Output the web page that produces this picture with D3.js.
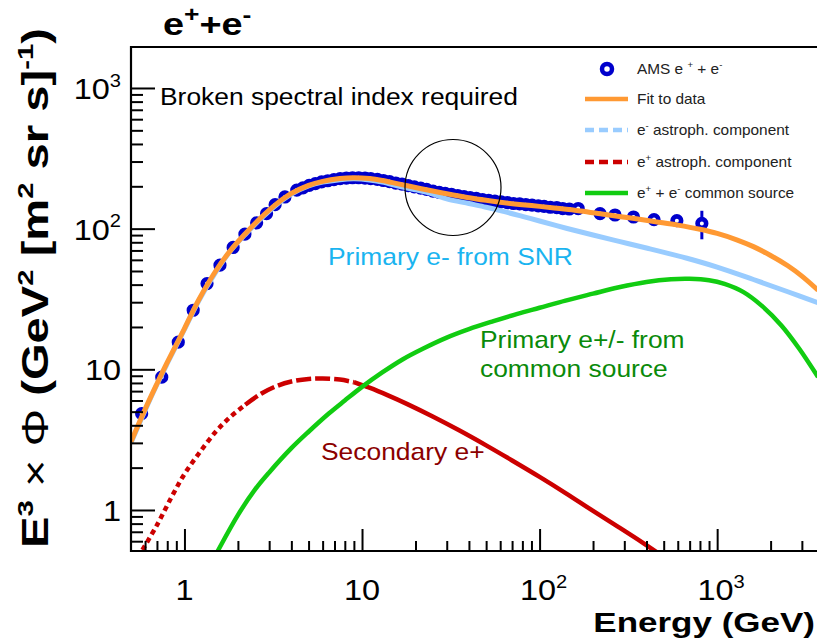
<!DOCTYPE html>
<html><head><meta charset="utf-8">
<script src="https://cdn.jsdelivr.net/npm/d3@7"></script>
<style>body{margin:0;background:#fff} svg{display:block} text{font-family:"Liberation Sans",Arial,Helvetica,sans-serif}</style>
</head><body><svg id="c" width="817" height="644"></svg>
<script>
// ---------------- data ----------------
const amsE = [0.574,0.745,0.923,1.12,1.34,1.585,1.88,2.19,2.55,2.90,3.24,3.68,
  4.29,4.65,5.04,5.46,5.92,6.41,6.95,7.53,8.16,8.84,9.58,10.4,11.2,12.2,13.2,14.3,15.5,16.8,18.2,19.7,
  21.4,23.1,25.1,27.2,29.4,31.9,34.6,37.5,40.6,44.0,47.7,51.7,56.0,60.7,65.8,71.3,77.2,83.7,90.7,98.3,
  106,115,125,135,147,165,219,266,338,441,593,820];
const amsV = [4.84,8.8,15.6,26.3,40.7,55,73.5,91.4,110,128,148,168,
  188,195,203,209,215,219,223,227,229,230,230,229,227,224,220,216,211,207,202,198,
  194,190,185,181,178,175,172,169,166,164,161,159,157,155,153,151,150,148,147,145,
  144,142,141,139,138,139,128,125,121,116,114,109];
const amsErr = [0,0,0,0,0,0,0,0,0,0,0,0,
  0,0,0,0,0,0,0,0,0,0,0,0,0,0,0,0,0,0,0,0,
  0,0,0,0,0,0,0,0,0,0,0,0,0,0,0,0,0,0,0,0,
  0,0,0,0,0,2,3,3,4,6,9,25];

const fitE = [0.5,0.6,0.7,0.8,1.0,1.2,1.5,1.8,2.2,2.7,3.3,4.0,5.0,6.0,7.5,9.0,11,13,16,20,25,30,40,50,60,80,100,130,170,220,280,350,450,600,800,1000,1300,1600,2000,2500,3000,3700];
const fitV = [3.05,5.2,7.9,11.2,19.5,31,50,69,92,120,150,178,203,217,227,230,227,220,208,196,185,177,166,159,154,148,144,139,133.5,127.5,122,117.5,112,106,99,92.5,83,74.5,64.5,54.5,46,36.5];

const eMinusE = [0.5,0.6,0.7,0.8,1.0,1.2,1.5,1.8,2.2,2.7,3.3,4.0,5.0,6.0,7.5,9.0,11,13,16,20,25,30,40,50,60,80,100,143,200,284,405,676,1000,1600,2500,3700];
const eMinusV = [3.0,5.1,7.8,11.0,19.2,30.5,49,68.5,91,118,148,176,201,214,223,226,222,214,201,189,176,163,150.8,142,134.4,122.2,113.3,100.3,90.1,80.8,72.6,61.6,53.3,43.5,35.6,29.7];

const ePlusE = [0.58,0.7,0.85,1.0,1.2,1.5,1.8,2.2,2.7,3.3,4.0,5.0,6.0,7.5,9.0,11,14,18,25,35,50,70,100,140,200,280,380,480];
const ePlusV = [0.52,0.78,1.25,1.8,2.5,3.6,4.55,5.6,6.7,7.6,8.2,8.55,8.6,8.45,8.1,7.4,6.53,5.66,4.62,3.70,2.88,2.25,1.72,1.32,0.985,0.752,0.586,0.48];

const commonE = [1.5,2,2.5,3,4,5,6.5,8,10,13,17,22,30,40,55,75,100,140,200,280,400,550,700,900,1100,1400,1800,2300,2900,3700];
const commonV = [0.48,0.92,1.4,1.85,2.75,3.6,4.85,6.0,7.5,9.5,11.8,14.0,16.8,19.3,22,24.8,27.4,30.8,34.5,38.3,41.8,43.7,44.0,43.0,40.5,35.5,28,20.5,14,8.8];

const xMajor = [1,10,100,1000];
const xMinor = [0.6,0.7,0.8,0.9,2,3,4,5,6,7,8,9,20,30,40,50,60,70,80,90,200,300,400,500,600,700,800,900,2000,3000];
const yMajor = [1,10,100,1000];
const yMinor = [0.6,0.7,0.8,0.9,2,3,4,5,6,7,8,9,20,30,40,50,60,70,80,90,200,300,400,500,600,700,800,900];
const tickBase = ["1","10","10","10"];
const tickExp  = ["","","2","3"];

const legendItems = [
  {kind:"marker", parts:["AMS e ",{sup:"+"}," + e",{sup:"-"}]},
  {kind:"line", color:"#ff9933", dash:null, parts:["Fit to data"]},
  {kind:"line", color:"#99ccff", dash:"9,5", parts:["e",{sup:"-"}," astroph. component"]},
  {kind:"line", color:"#cc0000", dash:"9,5", parts:["e",{sup:"+"}," astroph. component"]},
  {kind:"line", color:"#11cc11", dash:null, parts:["e",{sup:"+"}," + e",{sup:"-"}," common source"]}
];

// ---------------- setup ----------------
const svg = d3.select("#c");
const L = 131, R = 817, T = 47, B = 551;
const x = d3.scaleLog().domain([0.5, 3650]).range([L, R]);
const y = d3.scaleLog().domain([0.511, 1956]).range([B, T]);

svg.append("defs").append("clipPath").attr("id","clip")
  .append("rect").attr("x",L).attr("y",T).attr("width",R-L).attr("height",B-T);

function label(parent, px, py, parts, o) {
  const sx = o.sx || 1;
  const g = parent.append("g").attr("transform", `translate(${px},${py}) ${o.rot?`rotate(${o.rot})`:""} scale(${sx},1)`);
  const t = g.append("text").attr("font-size", o.size).attr("font-weight", o.weight||"normal")
    .attr("fill", o.fill||"#000").attr("text-anchor", o.anchor||"start");
  let cur = 0; // current raise above baseline
  parts.forEach(p => {
    if (typeof p === "string" || p.n !== undefined) {
      const ts = t.append("tspan").attr("dy", cur).attr("font-size", o.size).text(typeof p === "string" ? p : p.n);
      if (p.n !== undefined) ts.attr("font-weight","normal");
      cur = 0;
    } else {
      const target = o.size*0.42;
      t.append("tspan").attr("dy", -(target-cur)).attr("font-size", o.size*(o.supScale||0.62)).text(p.sup);
      cur = target;
    }
  });
  return g;
}

// ---------------- curves ----------------
const plot = svg.append("g").attr("clip-path","url(#clip)");
const line = d3.line().x(d=>x(d[0])).y(d=>y(d[1])).curve(d3.curveCatmullRom.alpha(0.5));
const zip = (a,b) => a.map((v,i)=>[v,b[i]]);

// data points (behind the lines)
const amsG = plot.append("g");
zip(amsE, amsV).forEach((d,i) => {
  if (amsErr[i] > 0) {
    amsG.append("line").attr("x1",x(d[0])).attr("x2",x(d[0]))
      .attr("y1",y(d[1]+amsErr[i])).attr("y2",y(d[1]-amsErr[i]))
      .attr("stroke","#0000cc").attr("stroke-width",3);
  }
});
amsG.selectAll("circle").data(zip(amsE, amsV)).join("circle")
  .attr("cx",d=>x(d[0])).attr("cy",d=>y(d[1])).attr("r",4.3)
  .attr("fill","#fff").attr("stroke","#0000cc").attr("stroke-width",4.6);

// e- astroph component
plot.append("path").datum(zip(eMinusE,eMinusV)).attr("d",line)
  .attr("fill","none").attr("stroke","#99ccff").attr("stroke-width",5);

// e+ secondary: dotted / dashed / solid parts
const ep = zip(ePlusE, ePlusV);
const redParts = [
  {data: ep.filter(d=>d[0]<=2.2), dash:"5,4"},
  {data: ep.filter(d=>d[0]>=2.2 && d[0]<=9), dash:"15,4"},
  {data: ep.filter(d=>d[0]>=9), dash:null}
];
redParts.forEach(p => {
  plot.append("path").datum(p.data).attr("d",line).attr("fill","none")
    .attr("stroke","#cc0000").attr("stroke-width",4.5).attr("stroke-dasharray",p.dash);
});

// common source
plot.append("path").datum(zip(commonE,commonV)).attr("d",line)
  .attr("fill","none").attr("stroke","#11cc11").attr("stroke-width",4.5);

// fit
plot.append("path").datum(zip(fitE,fitV)).attr("d",line)
  .attr("fill","none").attr("stroke","#ff9933").attr("stroke-width",5);

// ---------------- axes ----------------
const ax = svg.append("g");
function styleAxis(g){ g.select(".domain").remove(); g.selectAll("line").attr("stroke","#000").attr("stroke-width",2); g.selectAll("text").remove(); }
ax.append("g").attr("transform",`translate(0,${B})`)
  .call(d3.axisBottom(x).tickValues(xMajor).tickSize(-22).tickFormat("")).call(styleAxis);
ax.append("g").attr("transform",`translate(0,${B})`)
  .call(d3.axisBottom(x).tickValues(xMinor).tickSize(-10).tickFormat("")).call(styleAxis);
ax.append("g").attr("transform",`translate(${L},0)`)
  .call(d3.axisLeft(y).tickValues(yMajor).tickSize(-24).tickFormat("")).call(styleAxis);
ax.append("g").attr("transform",`translate(${L},0)`)
  .call(d3.axisLeft(y).tickValues(yMinor).tickSize(-12).tickFormat("")).call(styleAxis);
// frame lines
svg.append("line").attr("x1",L).attr("x2",L).attr("y1",T-1).attr("y2",B+1).attr("stroke","#000").attr("stroke-width",2.2);
svg.append("line").attr("x1",L-1).attr("x2",R).attr("y1",B).attr("y2",B).attr("stroke","#000").attr("stroke-width",2.2);
svg.append("line").attr("x1",L-1).attr("x2",R).attr("y1",T).attr("y2",T).attr("stroke","#000").attr("stroke-width",2.2);

// tick labels
xMajor.forEach((v,i) => {
  const parts = tickExp[i] ? [tickBase[i],{sup:tickExp[i]}] : [tickBase[i]];
  label(svg, x(v) + (tickExp[i]?4:0), 600, parts, {size:29, anchor:"middle", sx:1.12});
});
yMajor.forEach((v,i) => {
  const parts = tickExp[i] ? [tickBase[i],{sup:tickExp[i]}] : [tickBase[i]];
  label(svg, 121, y(v)+11, parts, {size:29, anchor:"end", sx:1.12});
});

// axis titles
label(svg, 815, 632, ["Energy (GeV)"], {size:28, weight:"bold", anchor:"end", sx:1.25});
label(svg, 48, 288, ["E",{sup:"3"},{n:" × Φ "},"(GeV",{sup:"2"}," [m",{sup:"2"}," sr s]",{sup:"-1"},")"],
  {size:36, weight:"bold", anchor:"middle", rot:-90, sx:1.31});
label(svg, 163, 35, ["e",{sup:"+"},"+e",{sup:"-"}], {size:31, weight:"bold", sx:1.22, supScale:0.7});

// annotations
label(svg, 160, 105, ["Broken spectral index required"], {size:24, sx:1.1});
label(svg, 328, 265, ["Primary e- from SNR"], {size:24, fill:"#1ab4f0", sx:1.1});
label(svg, 480, 348, ["Primary e+/- from"], {size:24, fill:"#0a8a0a", sx:1.1});
label(svg, 480, 377, ["common source"], {size:24, fill:"#0a8a0a", sx:1.1});
label(svg, 321, 460, ["Secondary e+"], {size:24, fill:"#8b0000", sx:1.1});

// circle highlight
svg.append("circle").attr("cx",453).attr("cy",187.5).attr("r",48).attr("fill","none").attr("stroke","#000").attr("stroke-width",1.2);

// ---------------- legend ----------------
const leg = svg.append("g");
const legY = [69, 99, 130, 162, 193];
legendItems.forEach((it,i) => {
  const yy = legY[i];
  if (it.kind === "marker") {
    leg.append("circle").attr("cx",607).attr("cy",yy).attr("r",5).attr("fill","#fff").attr("stroke","#0000cc").attr("stroke-width",4.5);
  } else {
    leg.append("line").attr("x1",585).attr("x2",628).attr("y1",yy).attr("y2",yy)
      .attr("stroke",it.color).attr("stroke-width",4.5).attr("stroke-dasharray",it.dash);
  }
  label(leg, 637, yy+5, it.parts, {size:14, fill:"#222", sx:1.1});
});
</script></body></html>
